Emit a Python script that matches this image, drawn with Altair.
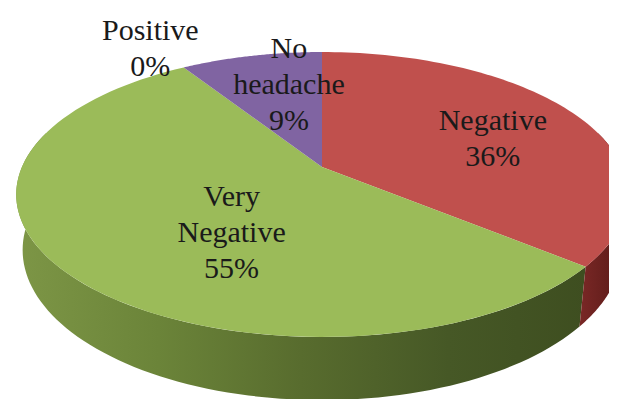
import math
import altair as alt
import pandas as pd

# ---- data ----
categories = ["Negative", "Very Negative", "Positive", "No headache"]
values = [36, 55, 0, 9]
top_colors = ["#C0504D", "#9BBB59", "#4BACC6", "#8064A2"]

# label layout in pie-polar terms (radius as fraction of pie radius, nudge from mid-angle in degrees)
label_radius = [0.63, 0.52, 1.24, 0.69]
label_nudge = [5.4, -16.6, -1.2, 5.8]

# ---- 3D view geometry ----
W, H = 601, 391
ELEV = math.radians(27.2)
SE, CE = math.sin(ELEV), math.cos(ELEV)
DIST = 4.609
THICK = 0.209
PX_PER_UNIT = 1383
CX, CY = 314, 159
N = 90
SIDE_FROM, SIDE_TO = math.radians(75), math.radians(285)
FONT_SIZE, LINE_H = 30, 36

XDOM = [-CX / PX_PER_UNIT, (W - CX) / PX_PER_UNIT]
YDOM = [(CY - H) / PX_PER_UNIT, CY / PX_PER_UNIT]

slices = pd.DataFrame({
    "category": categories,
    "value": values,
    "order": list(range(len(categories))),
    "lab_r": label_radius,
    "lab_nudge": label_nudge,
})

xenc = alt.X("X:Q", scale=alt.Scale(domain=XDOM, nice=False, zero=False), axis=None)
yenc = alt.Y("U:Q", scale=alt.Scale(domain=YDOM, nice=False, zero=False), axis=None)


def project(ch):
    return ch.transform_calculate(
        w=f"{DIST} + datum.py*{CE} - datum.pz*{SE}"
    ).transform_calculate(
        X="datum.px / datum.w",
        U=f"(datum.py*{SE} + datum.pz*{CE}) / datum.w",
    )


base = alt.Chart(slices).transform_joinaggregate(
    total="sum(value)"
).transform_window(
    cum="sum(value)", sort=[alt.SortField("order")], frame=[None, 0]
).transform_calculate(
    a0="2*PI*(datum.cum - datum.value)/datum.total",
    a1="2*PI*datum.cum/datum.total",
)

tops = project(
    base.transform_filter("datum.value > 0")
    .transform_calculate(k=f"sequence(-1, {N + 1})")
    .transform_flatten(["k"])
    .transform_calculate(
        ang=f"datum.a0 + (datum.a1 - datum.a0) * max(datum.k, 0) / {N}",
        px="datum.k < 0 ? 0 : sin(datum.ang)",
        py="datum.k < 0 ? 0 : cos(datum.ang)",
        pz="0",
    )
).mark_line(filled=True).encode(
    x=xenc,
    y=yenc,
    order=alt.Order("k:Q"),
    color=alt.Color("category:N", scale=alt.Scale(domain=categories, range=top_colors), legend=None),
)


def side(cat, gradient):
    return project(
        base.transform_filter(alt.datum.category == cat)
        .transform_calculate(
            s0=f"max(datum.a0, {SIDE_FROM})",
            s1=f"min(datum.a1, {SIDE_TO})",
        )
        .transform_filter("datum.s1 > datum.s0")
        .transform_calculate(k=f"sequence(0, {2 * N + 2})")
        .transform_flatten(["k"])
        .transform_calculate(
            ang=f"datum.k <= {N} ? datum.s0 + (datum.s1 - datum.s0)*datum.k/{N} : datum.s1 - (datum.s1 - datum.s0)*(datum.k - {N + 1})/{N}",
            px="sin(datum.ang)",
            py="cos(datum.ang)",
            pz=f"datum.k <= {N} ? 0 : {-THICK}",
        )
    ).mark_line(filled=True, fill=gradient).encode(
        x=xenc, y=yenc, order=alt.Order("k:Q")
    )


green_grad = alt.LinearGradient(
    gradient="linear", x1=0, x2=1, y1=0, y2=0,
    stops=[
        alt.GradientStop(offset=0, color="#7D9646"),
        alt.GradientStop(offset=0.25, color="#6B8439"),
        alt.GradientStop(offset=0.5, color="#586C2E"),
        alt.GradientStop(offset=0.76, color="#465826"),
        alt.GradientStop(offset=1, color="#3E4E20"),
    ],
)
red_grad = alt.LinearGradient(
    gradient="linear", x1=0, x2=1, y1=0, y2=0,
    stops=[
        alt.GradientStop(offset=0, color="#7A2826"),
        alt.GradientStop(offset=1, color="#561816"),
    ],
)

side_green = side("Very Negative", green_grad)
side_red = side("Negative", red_grad)

labels = project(
    base.transform_calculate(
        lang="(datum.a0 + datum.a1)/2 + datum.lab_nudge*PI/180",
        px="datum.lab_r * sin(datum.lang)",
        py="datum.lab_r * cos(datum.lang)",
        pz="0",
        txt="replace(datum.category, ' ', '\\n') + '\\n' + round(100*datum.value/datum.total) + '%'",
        nl="indexof(datum.category, ' ') >= 0 ? 3 : 2",
    )
).transform_calculate(
    U=f"datum.U + (datum.nl - 1) * {LINE_H / 2} / {PX_PER_UNIT}"
).mark_text(
    font="'Liberation Serif', 'Times New Roman', serif", fontSize=FONT_SIZE, lineHeight=LINE_H, lineBreak="\n",
    align="center", baseline="middle", color="#1a1a1a",
).encode(x=xenc, y=yenc, text="txt:N")

chart = alt.layer(side_green, side_red, tops, labels).properties(
    width=W, height=H,
    autosize=alt.AutoSizeParams(type="none"),
    padding=0,
    background="white",
).configure_view(stroke=None)

chart.save("out.html", embed_options={"renderer": "svg", "actions": False})
